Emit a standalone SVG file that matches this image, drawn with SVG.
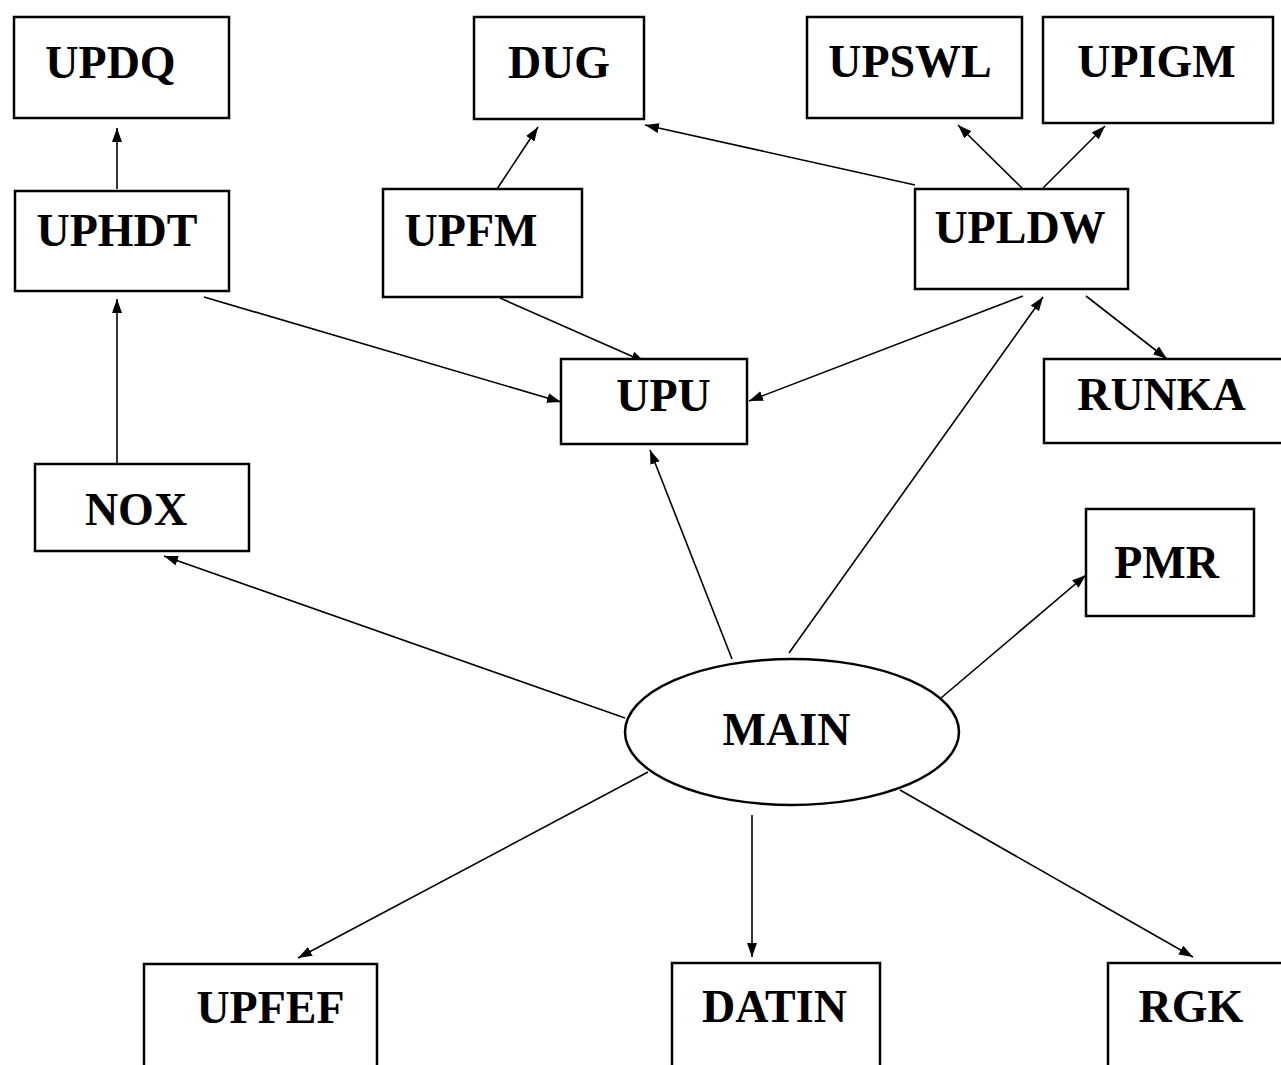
<svg xmlns="http://www.w3.org/2000/svg" width="1281" height="1065" viewBox="0 0 1281 1065">
<defs>
<marker id="ah" markerUnits="userSpaceOnUse" markerWidth="15" markerHeight="12" refX="14" refY="5" orient="auto">
<path d="M0,0 L14,5 L0,10 z" fill="#000"/>
</marker>
<style>
.box{fill:#fff;stroke:#000;stroke-width:2.5}
.lbl{font-family:"Liberation Serif","Times New Roman",serif;font-weight:bold;font-size:46px;text-anchor:middle;fill:#000}
.edge{stroke:#000;stroke-width:1.6;fill:none;marker-end:url(#ah)}
</style>
</defs>
<rect width="1281" height="1065" fill="#fff"/>
<g id="connectors">
<line class="edge" x1="117" y1="189" x2="117" y2="128"/>
<line class="edge" x1="497" y1="189" x2="538" y2="127"/>
<line class="edge" x1="915" y1="185" x2="645" y2="125"/>
<line class="edge" x1="1022" y1="188" x2="958" y2="125"/>
<line class="edge" x1="1043" y1="188" x2="1105" y2="126"/>
<line class="edge" x1="1086" y1="296" x2="1167" y2="359"/>
<line class="edge" x1="789" y1="653" x2="1043" y2="297"/>
<line class="edge" x1="1023" y1="296" x2="749" y2="401"/>
<line class="edge" x1="204" y1="297" x2="561" y2="402"/>
<line class="edge" x1="500" y1="298" x2="645" y2="362"/>
<line class="edge" x1="117" y1="464" x2="117" y2="299"/>
<line class="edge" x1="625" y1="718" x2="164" y2="556"/>
<line class="edge" x1="732" y1="659" x2="650" y2="450"/>
<line class="edge" x1="941" y1="698" x2="1086" y2="575"/>
<line class="edge" x1="648" y1="772" x2="298" y2="958"/>
<line class="edge" x1="752" y1="815" x2="752" y2="957"/>
<line class="edge" x1="900" y1="790" x2="1193" y2="957"/>
</g>
<g id="UPDQ"><rect class="box" x="14" y="17" width="215" height="101"/><text class="lbl" x="110.5" y="78">UPDQ</text></g>
<g id="DUG"><rect class="box" x="474" y="17" width="170" height="102"/><text class="lbl" x="559" y="78">DUG</text></g>
<g id="UPSWL"><rect class="box" x="807" y="17" width="215" height="101"/><text class="lbl" x="910" y="77">UPSWL</text></g>
<g id="UPIGM"><rect class="box" x="1043" y="17" width="230" height="106"/><text class="lbl" x="1156.5" y="77">UPIGM</text></g>
<g id="UPHDT"><rect class="box" x="15" y="191" width="214" height="100"/><text class="lbl" x="117" y="246">UPHDT</text></g>
<g id="UPFM"><rect class="box" x="383" y="189" width="199" height="108"/><text class="lbl" x="471" y="246">UPFM</text></g>
<g id="UPLDW"><rect class="box" x="915" y="189" width="213" height="100"/><text class="lbl" x="1020" y="243">UPLDW</text></g>
<g id="UPU"><rect class="box" x="561" y="359" width="186" height="85"/><text class="lbl" x="663.5" y="411">UPU</text></g>
<g id="RUNKA"><rect class="box" x="1044" y="359" width="250" height="84"/><text class="lbl" x="1161.5" y="410">RUNKA</text></g>
<g id="NOX"><rect class="box" x="35" y="464" width="214" height="87"/><text class="lbl" x="136" y="525">NOX</text></g>
<g id="PMR"><rect class="box" x="1086" y="509" width="168" height="107"/><text class="lbl" x="1166.5" y="578">PMR</text></g>
<g id="MAIN"><ellipse class="box" cx="792" cy="732" rx="167" ry="73"/><text class="lbl" x="786.5" y="745">MAIN</text></g>
<g id="UPFEF"><rect class="box" x="144" y="964" width="233" height="120"/><text class="lbl" x="270.5" y="1023">UPFEF</text></g>
<g id="DATIN"><rect class="box" x="672" y="963" width="208" height="120"/><text class="lbl" x="774.5" y="1022">DATIN</text></g>
<g id="RGK"><rect class="box" x="1108" y="963" width="190" height="120"/><text class="lbl" x="1191" y="1022">RGK</text></g>
</svg>
